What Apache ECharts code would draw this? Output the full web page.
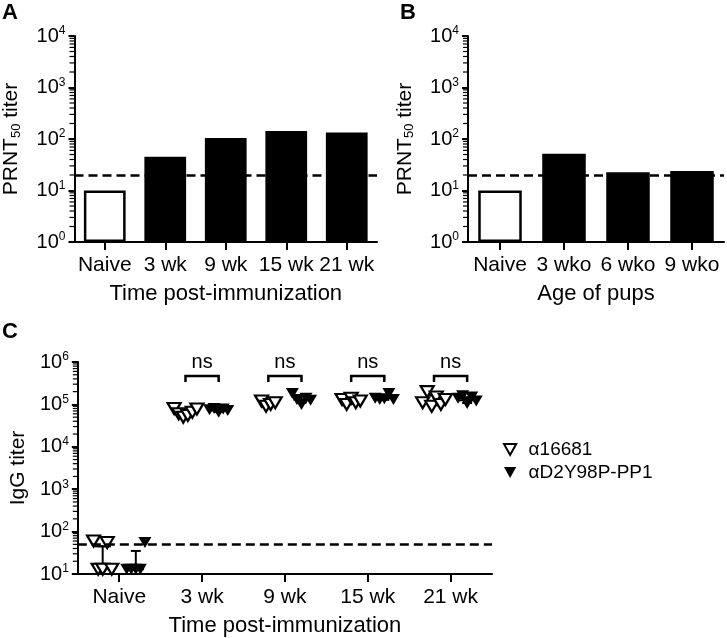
<!DOCTYPE html>
<html>
<head>
<meta charset="utf-8">
<script src="https://cdn.jsdelivr.net/npm/echarts@6/dist/echarts.min.js"></script>
<style>html,body{margin:0;padding:0;background:#fff}#c{width:727px;height:638px}</style>
</head>
<body>
<div id="c"></div>
<script>
// ---- data ----
const catsA = ['Naive', '3 wk', '9 wk', '15 wk', '21 wk'];
const valsA = [10, 45, 105, 143, 133];
const catsB = ['Naive', '3 wko', '6 wko', '9 wko'];
const valsB = [10, 52, 22.5, 24];
const limitAB = 20;

const catsC = ['Naive', '3 wk', '9 wk', '15 wk', '21 wk'];
const seriesNames = ['\u03b116681', '\u03b1D2Y98P-PP1'];
const open16681 = [
  [60, 13, 13, 55, 13],
  [80000, 60000, 50000, 55000, 65000, 78000],
  [120000, 90000, 100000, 110000],
  [130000, 100000, 140000, 110000, 120000],
  [110000, 200000, 90000, 150000, 100000, 130000]
];
const fillPP1 = [
  [13, 13, 13, 13, 55],
  [75000, 80000, 65000, 78000, 72000],
  [180000, 130000, 100000, 140000, 125000],
  [140000, 130000, 135000, 180000, 130000],
  [140000, 160000, 105000, 150000, 120000]
];
const openMid = [45, 62000, 105000, 120000, 120000];
const openLo  = [13, 52000, 92000, 105000, 95000];
const openHi  = [45, 75000, 118000, 135000, 165000];
const fillMid = [13, 72000, 130000, 140000, 125000];
const fillLo  = [13, 66000, 110000, 128000, 108000];
const fillHi  = [35, 78000, 160000, 160000, 148000];
const limitC = 50;
const nsGroups = [1, 2, 3, 4];
const nsLevel = 4.7e5;
const nsText = 'ns';

// ---- styling ----
const FONT = '"Liberation Sans", Arial, sans-serif';
const BLACK = '#000';

function powLabel(v) {
  const e = Math.round(Math.log10(v));
  return '{b|10}{s|' + e + '}';
}
const yLabel = {
  formatter: powLabel, margin: 9, color: BLACK,
  rich: {
    b: {fontSize: 20, fontFamily: FONT, color: BLACK},
    s: {fontSize: 12, fontFamily: FONT, color: BLACK, lineHeight: 12, padding: [0, 0, 10, 0]}
  }
};
function yAxisLog(gridIndex, min, max, nameRich, nameGap) {
  return {
    type: 'log', logBase: 10, gridIndex, min, max,
    axisLine: {show: true, onZero: false, lineStyle: {color: BLACK, width: 2}},
    axisTick: {show: true, length: 6, lineStyle: {color: BLACK, width: 2}},
    splitLine: {show: false},
    axisLabel: yLabel,
    name: nameRich, nameLocation: 'middle', nameGap, nameRotate: 90,
    nameTextStyle: {fontSize: 21, fontFamily: FONT, color: BLACK,
      rich: {sub: {fontSize: 13, fontFamily: FONT, color: BLACK, padding: [9, 0, 0, 0]}}}
  };
}
function xAxisCat(gridIndex, data, name) {
  return {
    type: 'category', gridIndex, data, boundaryGap: true,
    axisLine: {show: true, onZero: false, lineStyle: {color: BLACK, width: 2}},
    axisTick: {show: true, alignWithLabel: true, length: 8, lineStyle: {color: BLACK, width: 2}},
    axisLabel: {fontSize: 21, fontFamily: FONT, color: BLACK, margin: 13, interval: 0},
    name, nameLocation: 'middle', nameGap: 41,
    nameTextStyle: {fontSize: 22, fontFamily: FONT, color: BLACK}
  };
}
const dashLine = (v) => ({
  silent: true, symbol: ['none', 'none'], label: {show: false},
  lineStyle: {type: [9, 5], width: 2.5, color: BLACK},
  emphasis: {disabled: true},
  data: [{yAxis: v}]
});
function barData(vals) {
  return vals.map((v, i) => ({
    value: v,
    itemStyle: i === 0 ? {color: '#fff', borderColor: BLACK, borderWidth: 2.5}
                       : {color: BLACK, borderColor: BLACK, borderWidth: 0}
  }));
}

// minor tick values of a log axis (2..9 x 10^k), x = left end of hidden value axis
function minorVals(k0, k1, xLeft) {
  const out = [];
  for (let k = k0; k < k1; k++) for (let m = 2; m <= 9; m++) out.push([xLeft, m * Math.pow(10, k)]);
  return out;
}
function minorRender(params, api) {
  const p = api.coord([api.value(0), api.value(1)]);
  return {type: 'rect', shape: {x: p[0] - 5, y: p[1] - 0.6, width: 5, height: 1.2},
    style: {fill: BLACK}};
}

// scatter points with jitter per group
function pts(groups, side) {
  const out = [];
  groups.forEach((g, i) => {
    const n = g.length;
    g.forEach((v, j) => {
      out.push([i + side * 0.2 + (j - (n - 1) / 2) * 0.055, v]);
    });
  });
  return out;
}
function summ(mid, lo, hi, side) {
  return mid.map((m, i) => [i + side * 0.2, m, lo[i], hi[i]]);
}
function errRender(params, api) {
  const x = api.value(0), m = api.value(1), lo = api.value(2), hi = api.value(3);
  const pm = api.coord([x, m]);
  const pl = api.coord([x, lo]);
  const ph = api.coord([x, hi]);
  const mL = api.coord([x - 0.1, m])[0], mR = api.coord([x + 0.1, m])[0];
  const cL = api.coord([x - 0.06, m])[0], cR = api.coord([x + 0.06, m])[0];
  const st = {stroke: BLACK, lineWidth: 2, fill: null};
  return {type: 'group', children: [
    {type: 'line', shape: {x1: mL, y1: pm[1], x2: mR, y2: pm[1]}, style: st},
    {type: 'line', shape: {x1: pm[0], y1: pl[1], x2: pm[0], y2: ph[1]}, style: st},
    {type: 'line', shape: {x1: cL, y1: ph[1], x2: cR, y2: ph[1]}, style: st},
    {type: 'line', shape: {x1: cL, y1: pl[1], x2: cR, y2: pl[1]}, style: st}
  ]};
}
function nsRender(params, api) {
  const x = api.value(0), y = api.value(1);
  const pL = api.coord([x - 0.2, y]);
  const pR = api.coord([x + 0.2, y]);
  const st = {stroke: BLACK, lineWidth: 2.5, fill: null};
  return {type: 'group', children: [
    {type: 'polyline', shape: {points: [[pL[0], pL[1] + 6], [pL[0], pL[1]], [pR[0], pR[1]], [pR[0], pR[1] + 6]]}, style: st},
    {type: 'text', style: {text: nsText, x: (pL[0] + pR[0]) / 2, y: pL[1] - 3,
      align: 'center', verticalAlign: 'bottom', fontSize: 20, fontFamily: FONT, fill: BLACK}}
  ]};
}

const downTri = 'path://M0,0 L10,0 L5,9 Z';

const chart = echarts.init(document.getElementById('c'), null, {renderer: 'canvas'});
chart.setOption({
  animation: false,
  backgroundColor: '#fff',
  textStyle: {fontFamily: FONT, color: BLACK},
  grid: [
    {left: 67, top: 36, width: 310, height: 206},
    {left: 468, top: 36, width: 256, height: 206},
    {left: 67, top: 362, width: 425, height: 214}
  ],
  xAxis: [
    xAxisCat(0, catsA, 'Time post-immunization'),
    xAxisCat(1, catsB, 'Age of pups'),
    xAxisCat(2, catsC, 'Time post-immunization'),
    {type: 'value', gridIndex: 2, min: -0.5, max: 4.5, show: false},
    {type: 'value', gridIndex: 0, min: 0, max: 1, show: false},
    {type: 'value', gridIndex: 1, min: 0, max: 1, show: false}
  ],
  yAxis: [
    yAxisLog(0, 1, 10000, 'PRNT{sub|50} titer', 52),
    yAxisLog(1, 1, 10000, 'PRNT{sub|50} titer', 52),
    yAxisLog(2, 10, 1000000, 'IgG titer', 46)
  ],
  legend: {
    orient: 'vertical', left: 498, top: 435, itemWidth: 13, itemHeight: 11, itemGap: 4,
    textStyle: {fontSize: 19, fontFamily: FONT, color: BLACK, padding: [0, 0, 0, 7]},
    data: [
      {name: seriesNames[0], icon: downTri},
      {name: seriesNames[1], icon: downTri}
    ],
    selectedMode: false
  },
  graphic: [
    {type: 'text', left: 2, top: 2, style: {text: 'A', fontSize: 22, fontWeight: 'bold', fontFamily: FONT, fill: BLACK}},
    {type: 'text', left: 400, top: 2, style: {text: 'B', fontSize: 22, fontWeight: 'bold', fontFamily: FONT, fill: BLACK}},
    {type: 'text', left: 2, top: 321, style: {text: 'C', fontSize: 22, fontWeight: 'bold', fontFamily: FONT, fill: BLACK}}
  ],
  series: [
    {type: 'bar', xAxisIndex: 0, yAxisIndex: 0, barWidth: '69%', data: barData(valsA),
      markLine: dashLine(limitAB), silent: true},
    {type: 'bar', xAxisIndex: 1, yAxisIndex: 1, barWidth: '68%', data: barData(valsB),
      markLine: dashLine(limitAB), silent: true},
    {type: 'custom', xAxisIndex: 4, yAxisIndex: 0, renderItem: minorRender,
      data: minorVals(0, 4, 0), silent: true, clip: false, z: 5},
    {type: 'custom', xAxisIndex: 5, yAxisIndex: 1, renderItem: minorRender,
      data: minorVals(0, 4, 0), silent: true, clip: false, z: 5},
    {type: 'custom', xAxisIndex: 3, yAxisIndex: 2, renderItem: minorRender,
      data: minorVals(1, 6, -0.5), silent: true, clip: false, z: 5},
    {type: 'custom', xAxisIndex: 3, yAxisIndex: 2, renderItem: errRender, z: 3,
      data: summ(openMid, openLo, openHi, -1), silent: true},
    {type: 'custom', xAxisIndex: 3, yAxisIndex: 2, renderItem: errRender, z: 3,
      data: summ(fillMid, fillLo, fillHi, 1), silent: true},
    {type: 'custom', xAxisIndex: 3, yAxisIndex: 2, renderItem: nsRender, z: 3,
      data: nsGroups.map(i => [i, nsLevel]), silent: true, clip: false},
    {name: seriesNames[0], type: 'scatter', xAxisIndex: 3, yAxisIndex: 2, z: 4,
      symbol: 'triangle', symbolRotate: 180, symbolSize: [13, 11],
      itemStyle: {color: '#fff', borderColor: BLACK, borderWidth: 2.2, opacity: 1},
      data: pts(open16681, -1), silent: true,
      markLine: dashLine(limitC)},
    {name: seriesNames[1], type: 'scatter', xAxisIndex: 3, yAxisIndex: 2, z: 4,
      symbol: 'triangle', symbolRotate: 180, symbolSize: [13, 11],
      itemStyle: {color: BLACK, borderColor: BLACK, borderWidth: 0, opacity: 1},
      data: pts(fillPP1, 1), silent: true}
  ]
});
</script>
</body>
</html>
